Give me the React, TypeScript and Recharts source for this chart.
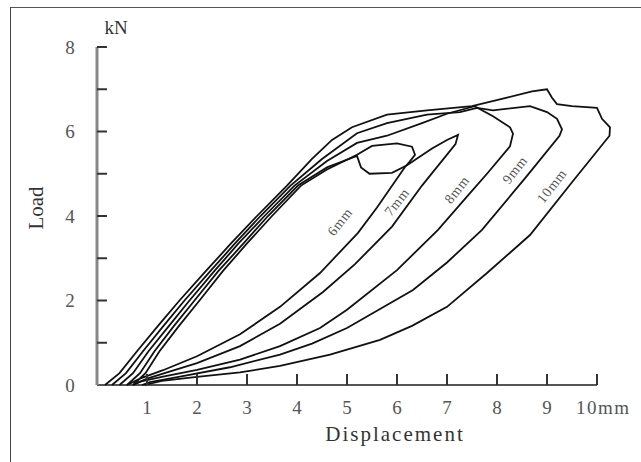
import React from "react";
import { LineChart, Line, XAxis, YAxis, ReferenceLine, ReferenceDot } from "recharts";

// load (kN) vs displacement (mm), one path per specimen: loading, peak, unloading
const curve6mm: [number, number][] = [
  [0.72, 0], [0.97, 0.28], [1.25, 0.8], [1.64, 1.4], [2.05, 2.0], [2.52, 2.7], [3.0, 3.35],
  [3.5, 4.0], [4.08, 4.72], [4.6, 5.1], [5.2, 5.45], [5.5, 5.66], [6.0, 5.72], [6.3, 5.64],
  [6.36, 5.45], [6.25, 5.28], [6.16, 5.16], [5.6, 4.2], [5.22, 3.6], [4.46, 2.65], [3.66, 1.85],
  [2.86, 1.2], [2.0, 0.68], [1.32, 0.35], [0.86, 0.15], [0.6, 0],
];
const curve7mm: [number, number][] = [
  [0.6, 0], [0.86, 0.28], [1.15, 0.8], [1.54, 1.4], [1.95, 2.0], [2.43, 2.7], [2.93, 3.35],
  [3.42, 4.0], [4.02, 4.72], [4.6, 5.15], [5.2, 5.42], [5.28, 5.15], [5.45, 5.0], [5.9, 5.02],
  [6.2, 5.2], [6.7, 5.6], [7.0, 5.8], [7.22, 5.92], [7.17, 5.7], [6.5, 4.72], [5.9, 3.75],
  [5.16, 2.86], [4.52, 2.2], [3.66, 1.45], [2.86, 0.92], [2.0, 0.52], [1.4, 0.3], [1.0, 0.15], [0.72, 0],
];
const curve8mm: [number, number][] = [
  [0.45, 0], [0.72, 0.28], [1.03, 0.8], [1.44, 1.4], [1.85, 2.0], [2.35, 2.7], [2.83, 3.35],
  [3.35, 4.0], [3.95, 4.72], [4.6, 5.3], [5.2, 5.73], [5.8, 5.9], [6.5, 6.2], [7.0, 6.42],
  [7.55, 6.6], [7.92, 6.36], [8.26, 6.1], [8.32, 5.95], [8.26, 5.65], [7.8, 5.0], [7.46, 4.54],
  [6.82, 3.67], [6.0, 2.72], [5.0, 1.78], [4.46, 1.35], [3.66, 0.92], [2.86, 0.6], [2.0, 0.36],
  [1.32, 0.2], [0.86, 0.08], [0.72, 0],
];
const curve9mm: [number, number][] = [
  [0.3, 0], [0.58, 0.28], [0.92, 0.8], [1.33, 1.4], [1.75, 2.0], [2.27, 2.7], [2.76, 3.35],
  [3.27, 4.0], [3.87, 4.72], [4.5, 5.35], [5.2, 5.96], [5.8, 6.2], [6.6, 6.4], [7.26, 6.46],
  [7.6, 6.56], [7.92, 6.5], [8.66, 6.6], [9.0, 6.46], [9.2, 6.3], [9.3, 6.05], [9.25, 5.9],
  [8.6, 4.95], [7.7, 3.67], [7.0, 2.9], [6.32, 2.25], [5.0, 1.35], [4.3, 0.98], [3.66, 0.72],
  [2.66, 0.42], [1.66, 0.2], [1.06, 0.07], [0.9, 0],
];
const curve10mm: [number, number][] = [
  [0.16, 0], [0.45, 0.28], [0.8, 0.8], [1.22, 1.4], [1.65, 2.0], [2.18, 2.7], [2.68, 3.35],
  [3.2, 4.0], [3.8, 4.72], [4.3, 5.35], [4.7, 5.8], [5.1, 6.1], [5.8, 6.4], [6.6, 6.5],
  [7.5, 6.6], [8.2, 6.8], [8.7, 6.95], [9.0, 7.0], [9.1, 6.8], [9.2, 6.65], [9.5, 6.6],
  [10.0, 6.56], [10.1, 6.3], [10.26, 6.1], [10.25, 5.9], [9.5, 4.8], [8.66, 3.55], [7.8, 2.65],
  [7.0, 1.85], [6.3, 1.4], [5.66, 1.07], [4.66, 0.72], [3.66, 0.45], [2.86, 0.3], [2.0, 0.19],
  [1.3, 0.1], [0.95, 0],
];

const curveNames = ["6mm", "7mm", "8mm", "9mm", "10mm"];
const curves = [curve6mm, curve7mm, curve8mm, curve9mm, curve10mm];
// where each name sits on the chart (data coords)
const labelX = [4.86, 6.0, 7.2, 8.36, 9.1];
const labelY = [3.86, 4.33, 4.62, 5.09, 4.71];

const xTicks = [1, 2, 3, 4, 5, 6, 7, 8, 9, 10];
const yTicks = [0, 1, 2, 3, 4, 5, 6, 7, 8];

const FONT = '"Liberation Serif", "DejaVu Serif", serif';

const YTick = (props: any) => {
  const { x, y, payload } = props;
  const v = payload.value;
  return (
    <g>
      {v > 0 && <line x1={x} y1={y} x2={x + 10} y2={y} stroke="#333" strokeWidth={2} />}
      {v % 2 === 0 && (
        <text x={x - 27} y={y} textAnchor="middle" dominantBaseline="central"
          fontFamily={FONT} fontSize={19} fill="#555">
          {v}
        </text>
      )}
    </g>
  );
};

const XTick = (props: any) => {
  const { x, y, payload } = props;
  const v = payload.value;
  return (
    <g>
      <line x1={x} y1={y} x2={x} y2={y - 11} stroke="#333" strokeWidth={2} />
      {v === 10 ? (
        <text x={x - 21} y={y + 22} textAnchor="start" dominantBaseline="central"
          fontFamily={FONT} fontSize={19} fill="#555" letterSpacing={1.5}>
          10mm
        </text>
      ) : (
        <text x={x} y={y + 22} textAnchor="middle" dominantBaseline="central"
          fontFamily={FONT} fontSize={19} fill="#555">
          {v}
        </text>
      )}
    </g>
  );
};

const curveLabel = (text: string) => (props: any) => {
  const vb = props.viewBox || {};
  const cx = (vb.x ?? 0) + (vb.width ?? 0) / 2;
  const cy = (vb.y ?? 0) + (vb.height ?? 0) / 2;
  return (
    <text x={cx} y={cy} textAnchor="middle" dominantBaseline="central"
      transform={`rotate(-52 ${cx} ${cy})`} fontFamily={FONT} fontSize={14}
      fill="#555" letterSpacing={0.8}>
      {text}
    </text>
  );
};

export default function App() {
  return (
    <div style={{ position: "absolute", left: 0, top: 0, width: 641, height: 462, overflow: "hidden", background: "#fff" }}>
      <div style={{
        position: "absolute", left: 10, top: 7, width: 700, height: 500,
        borderLeft: "1.5px solid #444", borderTop: "1.5px solid #555",
      }} />
      <LineChart width={641} height={462} margin={{ top: 47, right: 19, left: 57, bottom: 47 }}>
        <XAxis dataKey="x" type="number" domain={[0, 10.5]} ticks={xTicks} allowDataOverflow
          axisLine={false} tickSize={0} tickMargin={0} height={30} tick={<XTick />} />
        <YAxis type="number" domain={[0, 8]} ticks={yTicks} width={40}
          axisLine={{ stroke: "#888", strokeWidth: 3 }} tickSize={0} tickMargin={0} tick={<YTick />} />
        <ReferenceLine segment={[{ x: 0, y: 0 }, { x: 10, y: 0 }]} stroke="#555" strokeWidth={2} ifOverflow="visible" />
        {curves.map((c, i) => (
          <Line key={curveNames[i]} data={c.map(([x, y]) => ({ x, y }))} dataKey="y" type="linear"
            stroke="#111" strokeWidth={1.8} dot={false} activeDot={false} isAnimationActive={false} />
        ))}
        {curveNames.map((n, i) => (
          <ReferenceDot key={n} x={labelX[i]} y={labelY[i]} r={1} fill="none" stroke="none"
            label={curveLabel(n)} />
        ))}
      </LineChart>
      <svg width={641} height={462} style={{ position: "absolute", left: 0, top: 0, pointerEvents: "none" }}>
        <text x={116} y={27} textAnchor="middle" dominantBaseline="central" fontFamily={FONT} fontSize={19} fill="#333">kN</text>
        <text x={36} y={208} textAnchor="middle" dominantBaseline="central" fontFamily={FONT} fontSize={21}
          fill="#333" transform="rotate(-90 36 208)">Load</text>
        <text x={395} y={434} textAnchor="middle" dominantBaseline="central" fontFamily={FONT} fontSize={21}
          fill="#333" letterSpacing={2}>Displacement</text>
      </svg>
    </div>
  );
}
